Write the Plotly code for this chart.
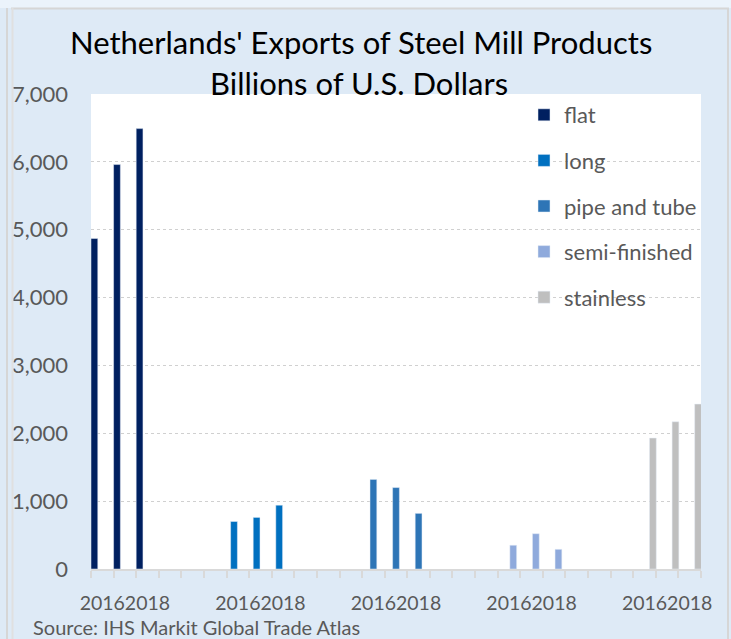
import plotly.graph_objects as go

# ---- data ----
years = ["2016", "2017", "2018"]
products = ["flat", "long", "pipe and tube", "semi-finished", "stainless"]
flat = [4870, 5960, 6490]
long_vals = [700, 760, 940]
pipe_and_tube = [1320, 1200, 820]
semi_finished = [350, 520, 290]
stainless = [1930, 2170, 2430]
series = [flat, long_vals, pipe_and_tube, semi_finished, stainless]
y_ticks = [0, 1000, 2000, 3000, 4000, 5000, 6000, 7000]

# ---- style ----
colors = ["#002060", "#0070C0", "#2E75B6", "#8FAADC", "#BFBFBF"]
offsets = [-0.50, -0.32, -0.15, 0.04, 0.22]
bar_w = 0.30
slots_per_group = 6
FONT = "Lato"
GRAY = "#595959"
W, H = 731, 639
ML, MR, MT, MB = 91, 30, 94, 70
PW, PH = W - ML - MR, H - MT - MB


def px(x):
    return (x - ML) / PW


def py(y):
    return (H - MB - y) / PH


fig = go.Figure()
for i, (name, vals) in enumerate(zip(products, series)):
    xs = [i * slots_per_group + j for j in range(len(years))]
    fig.add_trace(go.Bar(
        x=xs, y=vals, name=name, marker_color=colors[i],
        width=bar_w, offset=offsets[i], legendgroup=name,
        hovertemplate=name + " %{customdata}: %{y:,}<extra></extra>",
        customdata=years,
    ))

n_slots = slots_per_group * (len(products) - 1) + len(years)
tickvals, ticktext = [], []
for i in range(len(products)):
    for j in (0, 2):
        tickvals.append(i * slots_per_group + j)
        ticktext.append(years[j])

fig.update_layout(
    width=W, height=H,
    margin=dict(l=ML, r=MR, t=MT, b=MB, pad=0),
    paper_bgcolor="#DEEAF6",
    plot_bgcolor="#FFFFFF",
    barmode="overlay",
    font=dict(family=FONT, color=GRAY, size=22),
    showlegend=True,
    legend=dict(
        x=px(524), y=py(94), xanchor="left", yanchor="top",
        bgcolor="rgba(0,0,0,0)", font=dict(size=22, color=GRAY),
        traceorder="grouped", tracegroupgap=14,
    ),
    xaxis=dict(
        range=[-0.5, n_slots - 0.5],
        tickmode="array", tickvals=tickvals, ticktext=ticktext,
        tickangle=0,
        ticks="", showgrid=False, zeroline=False,
        showline=True, linecolor="#D9D9D9", linewidth=2,
        tickfont=dict(size=19.5, color=GRAY),
        ticklabelstandoff=16,
        minor=dict(tickvals=[k - 0.5 for k in range(n_slots + 1)],
                   ticks="outside", ticklen=7, tickcolor="#D9D9D9",
                   tickwidth=1.5, showgrid=False),
        fixedrange=True,
    ),
    yaxis=dict(
        range=[0, 7000], tickmode="array", tickvals=y_ticks,
        tickformat=",", showgrid=True, gridcolor="#D0D0D0",
        griddash="dot", gridwidth=1, zeroline=False, showline=False,
        tickfont=dict(size=22, color=GRAY), ticklabelstandoff=22,
        fixedrange=True,
    ),
)

# Titles and source
fig.add_annotation(text="Netherlands' Exports of Steel Mill Products",
                   xref="paper", yref="paper", x=px(361), y=py(42),
                   xanchor="center", yanchor="middle", showarrow=False,
                   font=dict(family=FONT, size=31, color="#000000"))
fig.add_annotation(text="Billions of U.S. Dollars",
                   xref="paper", yref="paper", x=px(359), y=py(83),
                   xanchor="center", yanchor="middle", showarrow=False,
                   font=dict(family=FONT, size=31, color="#000000"))
fig.add_annotation(text="Source: IHS Markit Global Trade Atlas",
                   xref="paper", yref="paper", x=px(31), y=py(626.5),
                   xanchor="left", yanchor="middle", showarrow=False,
                   font=dict(family=FONT, size=20, color=GRAY))

# Outer frame decoration
fig.add_shape(type="rect", xref="paper", yref="paper", x0=px(0), x1=px(W),
              y0=py(0), y1=py(8), fillcolor="#EBF3FB", line_width=0, layer="above")
fig.add_shape(type="line", xref="paper", yref="paper", x0=px(11), x1=px(729),
              y0=py(8.5), y1=py(8.5), line=dict(color="#D6D6D6", width=2), layer="above")
fig.add_shape(type="line", xref="paper", yref="paper", x0=px(7), x1=px(7),
              y0=py(8), y1=py(H), line=dict(color="#D6D6D6", width=2), layer="above")
fig.add_shape(type="line", xref="paper", yref="paper", x0=px(12.5), x1=px(12.5),
              y0=py(8), y1=py(H), line=dict(color="#E0E0E0", width=2), layer="above")
fig.add_shape(type="line", xref="paper", yref="paper", x0=px(728), x1=px(728),
              y0=py(8), y1=py(H), line=dict(color="#D6D6D6", width=2), layer="above")

fig.write_html(
    "out.html",
    config={"displayModeBar": False},
    post_script="document.body.style.margin='0';document.body.style.overflow='hidden';",
)
